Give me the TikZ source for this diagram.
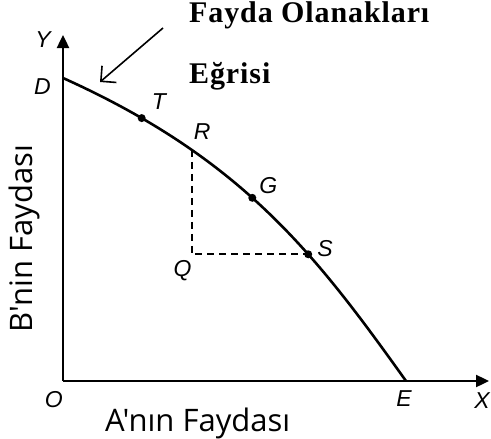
\documentclass[tikz,border=0pt]{standalone}
\usepackage{fontspec}
\setmainfont{Liberation Serif}
\newfontfamily\titlefont[LetterSpace=3]{Liberation Serif}
\newfontfamily\axisfont[Ligatures=TeXOff]{Open Sans}
\newfontfamily\letterfont{Liberation Sans}
\usetikzlibrary{arrows.meta, positioning}

\begin{document}
\begin{tikzpicture}[
    x=1pt, y=-1pt,
    axis line/.style={
        line width=2.4pt,
        -{Triangle[length=13pt, width=12pt]}
    },
    curve point/.style={
        circle,
        fill=black,
        inner sep=0pt,
        minimum size=8pt  % eğri üzerindeki noktalar
    },
    point label/.style={
        font=\letterfont\itshape\fontsize{23}{23}\selectfont,
        inner sep=0pt
    },
    guide line/.style={
        line width=2.4pt,
        dash pattern=on 7pt off 5pt
    },
    axis title/.style={
        font=\axisfont\fontsize{31}{31}\selectfont,
        inner sep=0pt
    },
    curve title/.style={
        font=\titlefont\bfseries\fontsize{30}{30}\selectfont,
        inner sep=0pt,
        anchor=base west
    }
]
    \useasboundingbox (0,0) rectangle (491,439);

    \coordinate (O) at (63,381);
    \coordinate (Ytop) at (63,35);
    \coordinate (Xend) at (489,381);
    \coordinate (D) at (63,78);
    \coordinate (E) at (406,381);

    \draw[axis line] (O) -- (Ytop);
    \draw[axis line] (O) -- (Xend);

    \draw[line width=2.6pt] (D) .. controls (243,159) and (316,255) .. (E)
        coordinate[pos=0.16] (T)
        coordinate[pos=0.28] (R)
        coordinate[pos=0.45] (G)
        coordinate[pos=0.635] (S);
    \coordinate (Q) at (R |- S);
    \draw[guide line] (R) -- (Q) -- (S);

    \node[curve point] (Tdot) at (T) {};
    \node[curve point] (Gdot) at (G) {};
    \node[curve point] (Sdot) at (S) {};

    \node[point label, left=12pt of Ytop, yshift=-5pt] (Ylabel) {Y};
    \node[point label, left=12pt of D, yshift=-9pt] (Dlabel) {D};
    \node[point label, above right=8pt and 10pt of T] (Tlabel) {T};
    \node[point label, above right=10pt and 2pt of R] (Rlabel) {R};
    \node[point label, right=7pt of G, yshift=12pt] (Glabel) {G};
    \node[point label, right=9pt of S, yshift=6pt] (Slabel) {S};
    \node[point label, below left=6pt and 0pt of Q] (Qlabel) {Q};
    \node[point label, below left=10pt and 0pt of O] (Olabel) {O};
    \node[point label, below=9pt of E, xshift=-2pt] (Elabel) {E};
    \node[point label, below=11pt of Xend, xshift=-7pt] (Xlabel) {X};

    % eğri adı ve ok
    \node[curve title] (title1) at (189,23) {Fayda Olanakları};
    \node[curve title] (title2) at (189,83) {Eğrisi};
    \coordinate (pointer start) at (163,28);
    \coordinate (pointer end) at (100,82);
    \draw[line width=1.6pt, -{Straight Barb[length=11pt, width=22pt]}] (pointer start) -- (pointer end);

    \node[axis title, anchor=base west] (xtitle) at (105,431) {A'nın Faydası};
    \node[axis title, rotate=90, anchor=base west] (ytitle) at (32,333) {B'nin Faydası};
\end{tikzpicture}
\end{document}
